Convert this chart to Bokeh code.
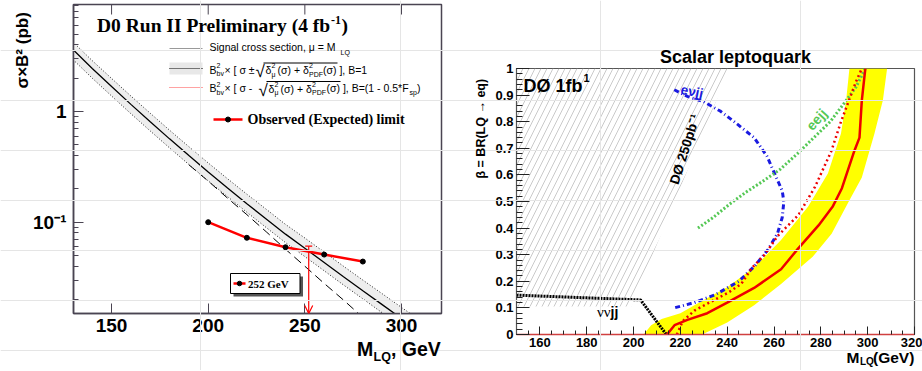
import math
from bokeh.plotting import figure
from bokeh.models import (Label, FixedTicker, CustomJSTickFormatter,
                          Arrow, OpenHead, Range1d)
from bokeh.embed import file_html
from bokeh.resources import INLINE

# ---------------- data : left panel (cross section vs mass) ----------------
theory_mass = [130, 140, 150, 160, 170, 180, 190, 200, 210, 220,
               230, 240, 250, 260, 270, 280, 290, 300, 310, 320]
theory_xsec = [3.63, 2.45, 1.68, 1.16, 0.807, 0.566, 0.400, 0.284, 0.204, 0.147,
               0.107, 0.078, 0.0582, 0.0432, 0.0321, 0.0240, 0.0180, 0.0135, 0.0101, 0.0076]
theory_xsec_hi = [4.25, 2.88, 1.99, 1.38, 0.965, 0.678, 0.481, 0.343, 0.247, 0.179,
                  0.131, 0.0955, 0.0720, 0.0537, 0.0400, 0.0300, 0.0226, 0.0170, 0.0128, 0.0097]
theory_xsec_lo = [2.95, 2.00, 1.38, 0.955, 0.667, 0.469, 0.332, 0.236, 0.170, 0.123,
                  0.0895, 0.0654, 0.0489, 0.0364, 0.0271, 0.0203, 0.0152, 0.0114, 0.0086, 0.0065]
fsp_mass = [190, 200, 210, 220, 230, 240, 250, 260, 270, 280, 290]
fsp_xsec = [0.330, 0.235, 0.165, 0.117, 0.082, 0.057, 0.040, 0.028, 0.0198, 0.0138, 0.0097]
limit_mass = [200, 220, 240, 260, 280]
limit_xsec = [0.100, 0.0723, 0.0594, 0.0510, 0.0441]
mass_limit = 252
mass_limit_top = 0.0607
left_xticks = [150, 200, 250, 300]
left_yticks = [0.1, 1]
left_yminor = [m * 10.0 ** e for e in (-2, -1, 0) for m in range(2, 10)]

# ---------------- data : right panel (beta vs mass) ----------------
hatch_m = [150, 199, 241, 150]
hatch_b = [0.105, 0.105, 1.0, 1.0]
nunu_m = [150, 203, 214]
nunu_b = [0.148, 0.130, 0.0]
band_left_m = [204.3, 207.5, 212, 220, 229, 240, 251.5, 263, 274.5, 283, 288.6, 290.8, 292.2]
band_left_b = [0.0, 0.035, 0.058, 0.08, 0.125, 0.178, 0.252, 0.355, 0.48, 0.605, 0.756, 0.881, 1.0]
band_right_m = [308.3, 306.5, 302.9, 297.5, 292.2, 284.6, 276.5, 263, 251.5, 240, 229.3]
band_right_b = [1.0, 0.881, 0.756, 0.59, 0.505, 0.379, 0.292, 0.19, 0.11, 0.045, 0.0]
obs_m = [214.3, 217.5, 223, 231.5, 240, 251.5, 263, 270, 279, 285, 289, 294.3, 296.5, 297.5, 299]
obs_b = [0.0, 0.035, 0.055, 0.08, 0.12, 0.175, 0.245, 0.32, 0.41, 0.48, 0.55, 0.69, 0.74, 0.88, 1.0]
exp_m = [218.5, 221, 226, 234.5, 240, 246, 250.5, 256, 261.5, 266, 270.5, 277.5, 284.5, 288.6, 292, 295, 297.5]
exp_b = [0.0, 0.05, 0.09, 0.13, 0.155, 0.19, 0.25, 0.30, 0.37, 0.41, 0.45, 0.555, 0.69, 0.80, 0.88, 0.95, 1.0]
enujj_m = [217.4, 223, 230, 237, 243, 251.5, 257, 261, 263.5, 264.2, 263.5, 261.5, 257.5, 252, 245, 235, 226, 217.4]
enujj_b = [0.92, 0.895, 0.875, 0.84, 0.80, 0.74, 0.67, 0.59, 0.54, 0.50, 0.44, 0.38, 0.32, 0.26, 0.20, 0.15, 0.12, 0.10]
eejj_m = [227.5, 234, 241, 248, 255, 262.5, 270, 277, 284, 290, 295, 299]
eejj_b = [0.40, 0.44, 0.49, 0.535, 0.575, 0.62, 0.68, 0.74, 0.80, 0.87, 0.93, 1.0]
right_xticks = [160, 180, 200, 220, 240, 260, 280, 300, 320]
right_xminor = [150 + 5 * i for i in range(35)]
right_yticks = [0, 0.1, 0.2, 0.3, 0.4, 0.5, 0.6, 0.7, 0.8, 0.9, 1]
right_yminor = [0.02 * i for i in range(51)]

# ---------------- geometry (page pixels; the page has no margin) ----------------
LW, LH = 463, 370
L_BL, L_BR, L_BT, L_BB = 73, 22, 4, 57
L_FW, L_FH = LW - L_BL - L_BR, LH - L_BT - L_BB
L_X = (130.3, 320.7)
L_Y = (0.01497, 9.26)

RW, RH = 459, 370
R_BL, R_BR, R_BT, R_BB = 53, 8, 68, 36
R_FW, R_FH = RW - R_BL - R_BR, RH - R_BT - R_BB
R_X = (150, 320)
R_Y = (0, 1)
R_OX = LW

OW, OH = 922, 370


def lx(px):
    return L_X[0] + (px - L_BL) / L_FW * (L_X[1] - L_X[0])


def ly(py):
    lo, hi = math.log10(L_Y[0]), math.log10(L_Y[1])
    return 10 ** (hi - (py - L_BT) / L_FH * (hi - lo))


SANS = "Liberation Sans"
SERIF = "Liberation Serif"

# transparent overlay that carries every text, positioned in page pixels
ov = figure(width=OW, height=OH, x_range=Range1d(0, OW), y_range=Range1d(OH, 0),
            x_axis_location=None, y_axis_location=None, toolbar_location=None,
            output_backend="svg", min_border_left=0, min_border_right=0,
            min_border_top=0, min_border_bottom=0, title=None)
ov.outline_line_color = None
ov.background_fill_color = None
ov.border_fill_color = None
ov.styles = {"position": "absolute", "left": "0px", "top": "0px"}


def lab(x, y, text, size, color="black", font=SANS, style="normal",
        align="left", angle=0.0, baseline="middle"):
    ov.add_layout(Label(x=x, y=y, text=text, text_font_size=f"{size}px",
                        text_color=color, text_font=font, text_font_style=style,
                        text_align=align, angle=angle, text_baseline=baseline))


# =============================== LEFT PANEL ===============================
FRAME_L = "#4a4452"
p1 = figure(width=LW, height=LH, y_axis_type="log",
            x_range=Range1d(*L_X), y_range=Range1d(*L_Y),
            output_backend="svg", toolbar_location=None,
            min_border_left=L_BL, min_border_right=L_BR,
            min_border_top=L_BT, min_border_bottom=L_BB)
p1.styles = {"position": "absolute", "left": "0px", "top": "0px"}
p1.xgrid.grid_line_color = None
p1.ygrid.grid_line_color = None
p1.outline_line_color = FRAME_L
p1.outline_line_width = 1.5
p1.background_fill_color = "white"
p1.border_fill_color = "white"

p1.xaxis.ticker = FixedTicker(ticks=left_xticks)
p1.yaxis.ticker = FixedTicker(ticks=left_yticks, minor_ticks=left_yminor)
p1.yaxis.formatter = CustomJSTickFormatter(
    code="return Math.abs(tick - 1) < 1e-9 ? '1' : '10\u207b\u00b9';")
for ax in (p1.xaxis[0], p1.yaxis[0]):
    ax.axis_line_color = FRAME_L
    ax.axis_line_width = 1.5
    ax.major_tick_line_color = FRAME_L
    ax.minor_tick_line_color = FRAME_L
    ax.major_tick_in = 10
    ax.major_tick_out = 0
    ax.minor_tick_in = 5
    ax.minor_tick_out = 0
    ax.major_label_text_font = SANS
    ax.major_label_text_font_style = "bold"
    ax.major_label_text_font_size = "19px"
    ax.major_label_text_color = "black"
p1.xaxis.minor_tick_line_color = None
p1.xaxis.major_label_standoff = 5
p1.yaxis.major_label_standoff = 7

# ticks along the top edge of the frame
p1.segment(x0=left_xticks, x1=left_xticks, y0=[L_Y[1]] * len(left_xticks),
           y1=[ly(L_BT + 10)] * len(left_xticks), line_color=FRAME_L, line_width=1)

# theory band and curves
p1.varea(x=theory_mass, y1=theory_xsec_lo, y2=theory_xsec_hi, fill_color="#eeeeee")
p1.line(theory_mass, theory_xsec_hi, line_color="#222222", line_width=1, line_dash="1 2")
p1.line(theory_mass, theory_xsec_lo, line_color="#222222", line_width=1, line_dash="1 2")
p1.line(theory_mass, theory_xsec, line_color="black", line_width=1.3)
p1.line(fsp_mass, fsp_xsec, line_color="black", line_width=1, line_dash="9 5")

# observed limit
p1.line(limit_mass, limit_xsec, line_color="#ff0000", line_width=2.5)
p1.scatter(limit_mass, limit_xsec, size=5, color="black")
p1.segment(x0=[mass_limit - 1.8], x1=[mass_limit + 1.8], y0=[mass_limit_top],
           y1=[mass_limit_top], line_color="#ff0000", line_width=1.2)
p1.add_layout(Arrow(end=OpenHead(size=8, line_color="#ff0000", line_width=1.2),
                    x_start=mass_limit, y_start=mass_limit_top,
                    x_end=mass_limit, y_end=L_Y[0],
                    line_color="#ff0000", line_width=1.2))

# legend samples (glyphs inside the frame)
p1.line([lx(169), lx(202)], [ly(48), ly(48)], line_color="#999999", line_width=1)
p1.quad(left=[lx(169)], right=[lx(202)], top=[ly(62)], bottom=[ly(74)],
        fill_color="#e8e8e8", line_color=None)
p1.line([lx(169), lx(202)], [ly(68), ly(68)], line_color="black", line_width=1, line_dash="1 1")
p1.line([lx(263), lx(337)], [ly(62.5), ly(62.5)], line_color="black", line_width=1)
p1.line([lx(169), lx(202)], [ly(87), ly(87)], line_color="#ff4444", line_width=1, line_dash="1 1")
p1.line([lx(266), lx(340)], [ly(81), ly(81)], line_color="black", line_width=1)
p1.line([lx(213), lx(242)], [ly(119), ly(119)], line_color="#ff0000", line_width=2.5)
p1.scatter([lx(227.5)], [ly(119)], size=5, color="black")
# box with the limit value
p1.quad(left=[lx(233)], right=[lx(302.5)], top=[ly(276)], bottom=[ly(296)],
        fill_color="#555555", line_color=None)
p1.quad(left=[lx(230)], right=[lx(299.5)], top=[ly(273)], bottom=[ly(293)],
        fill_color="white", line_color="black", line_width=1)
p1.line([lx(233), lx(245)], [ly(283), ly(283)], line_color="#ff0000", line_width=2.5)
p1.scatter([lx(239)], [ly(283)], size=4.5, color="black")

# left panel texts
lab(96.5, 25, "D0 Run II Preliminary (4 fb", 19.5, font=SERIF, style="bold")
lab(330.5, 19, "-1", 12, font=SERIF, style="bold")
lab(341, 25, ")", 19.5, font=SERIF, style="bold")

lab(209, 46.5, "Signal cross section, \u03bc = M", 10.5)
lab(340, 51.5, "LQ", 7)

lab(209, 69, "B", 10.5)
lab(216, 65, "2", 7)
lab(216, 73, "bv", 7)
lab(224, 69, "\u00d7 [ \u03c3 \u00b1", 10.5)
lab(255, 71, "\u221a", 17)
lab(265, 69.5, "\u03b4", 10.5)
lab(271, 65, "2", 7)
lab(271, 73.5, "\u03bc", 7)
lab(277, 69.5, "(\u03c3) + \u03b4", 10.5)
lab(308.5, 65, "2", 7)
lab(308.5, 73.5, "PDF", 7)
lab(322.5, 69, "(\u03c3) ], B=1", 10.5)

lab(209, 87.5, "B", 10.5)
lab(216, 83.5, "2", 7)
lab(216, 91.5, "bv", 7)
lab(224, 87.5, "\u00d7 [ \u03c3  -", 10.5)
lab(258, 89.5, "\u221a", 17)
lab(268, 88, "\u03b4", 10.5)
lab(274, 83.5, "2", 7)
lab(274, 92, "\u03bc", 7)
lab(280, 88, "(\u03c3) + \u03b4", 10.5)
lab(311.5, 83.5, "2", 7)
lab(311.5, 92, "PDF", 7)
lab(326, 87.5, "(\u03c3) ], B=(1 - 0.5*F", 10.5)
lab(409, 92, "sp", 7)
lab(416.5, 87.5, ")", 10.5)

lab(247, 119, "Observed (Expected) limit", 14, font=SERIF, style="bold")
lab(247.5, 283, f"{mass_limit} GeV", 11, font=SERIF, style="bold")

lab(21.5, 88, "\u03c3\u00d7B\u00b2 (pb)", 17, style="bold", angle=math.pi / 2)
lab(356.5, 348.5, "M", 19.5, style="bold")
lab(373, 356, "LQ", 12.5, style="bold")
lab(390.5, 348.5, ", GeV", 19.5, style="bold")

# =============================== RIGHT PANEL ===============================
p2 = figure(width=RW, height=RH, x_range=Range1d(*R_X), y_range=Range1d(*R_Y),
            output_backend="svg", toolbar_location=None,
            min_border_left=R_BL, min_border_right=R_BR,
            min_border_top=R_BT, min_border_bottom=R_BB)
p2.styles = {"position": "absolute", "left": f"{R_OX}px", "top": "0px"}
p2.xgrid.grid_line_color = None
p2.ygrid.grid_line_color = None
p2.outline_line_color = "#555555"
p2.outline_line_width = 1.2
p2.background_fill_color = "white"
p2.border_fill_color = "white"

p2.xaxis.ticker = FixedTicker(ticks=right_xticks, minor_ticks=right_xminor)
p2.yaxis.ticker = FixedTicker(ticks=right_yticks, minor_ticks=right_yminor)
p2.yaxis.formatter = CustomJSTickFormatter(code="return (Math.round(tick * 10) / 10).toString();")
for ax in (p2.xaxis[0], p2.yaxis[0]):
    ax.major_tick_out = 0
    ax.minor_tick_out = 0
    ax.major_tick_line_color = "#222222"
    ax.minor_tick_line_color = "#222222"
    ax.major_label_text_font = SANS
    ax.major_label_text_font_style = "bold"
    ax.major_label_text_font_size = "13px"
    ax.major_label_text_color = "black"
    ax.major_label_standoff = 3
p2.yaxis.major_tick_in = 13
p2.yaxis.minor_tick_in = 6
p2.yaxis.axis_line_color = "#555555"
p2.xaxis.major_tick_in = 8
p2.xaxis.minor_tick_in = 4
p2.xaxis.axis_line_color = "#d04040"
p2.xaxis.axis_line_width = 1.5

# excluded (hatched) region
p2.patch(hatch_m, hatch_b, fill_color=None, line_color=None, hatch_pattern="/",
         hatch_color="#c4c4c4", hatch_scale=12, hatch_weight=0.9)
# yellow band
p2.patch(band_left_m + band_right_m, band_left_b + band_right_b,
         fill_color="#ffff00", line_color=None)
# nu nu jj
p2.line(nunu_m, nunu_b, line_color="black", line_width=3, line_dash="2 1")
# e nu jj
p2.line(enujj_m, enujj_b, line_color="#1a1ae0", line_width=3, line_dash="5 3 1 3")
# e e jj
p2.line(eejj_m, eejj_b, line_color="#55c855", line_width=3, line_dash="2 2")
# expected (dotted red) and observed (solid red)
p2.line(exp_m, exp_b, line_color="#ee0000", line_width=2.5, line_dash="2 3")
p2.line(obs_m, obs_b, line_color="#ee0000", line_width=2.5)

# right panel texts
lab(735, 56.5, "Scalar leptoquark", 18, style="bold", align="center")
lab(480, 178, "\u03b2 = BR(LQ \u2192 eq)", 12.5, style="bold", angle=math.pi / 2)
lab(523, 85, "D\u00d8 1fb", 18, style="bold")
lab(583, 77, "1", 11, style="bold")
lab(685, 147, "D\u00d8  250pb\u207b\u00b9", 13.5, style="bold", align="center",
    angle=math.radians(72.5))
lab(691.5, 91, "e\u03bdjj", 13.5, color="#1a1ae0", style="bold", align="center", angle=-0.2)
lab(816, 119, "eejj", 14, color="#55c855", style="bold", align="center",
    angle=math.radians(48))
lab(596.5, 311, "\u03bd\u03bd", 15, font=SERIF)
lab(610, 311, "jj", 14, style="bold")
lab(846, 356.5, "M", 15.5, style="bold")
lab(859.5, 361, "LQ", 10, style="bold")
lab(872.5, 356.5, "(GeV)", 15.5, style="bold")

open("out.html", "w").write(file_html([p1, p2, ov], INLINE))
